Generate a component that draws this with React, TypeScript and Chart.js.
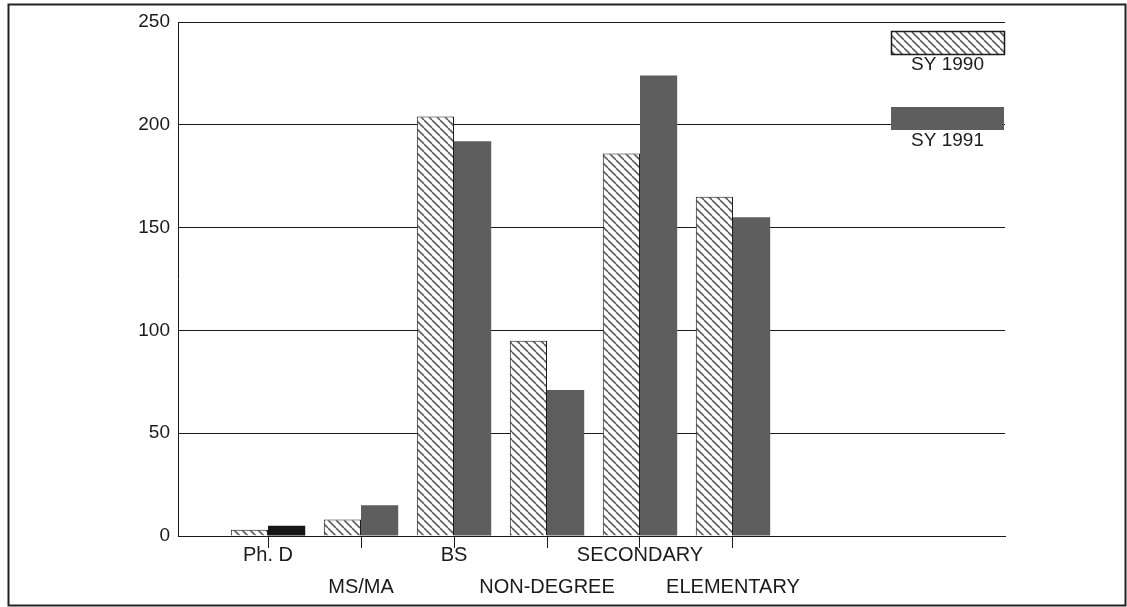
import { useEffect, useRef } from "react";
import { Chart, registerables } from "chart.js";

Chart.register(...registerables);

// Enrolment by degree level, school years 1990 and 1991
const categories = ["Ph. D", "MS/MA", "BS", "NON-DEGREE", "SECONDARY", "ELEMENTARY"];
const sy1990 = [3, 8, 204, 95, 186, 165];
const sy1991 = [5, 15, 192, 71, 224, 155];
const seriesNames = ["SY 1990", "SY 1991"];
const yTickStep = 50;
const yMax = 250;

const FONT = "'Liberation Sans', Arial, Helvetica, sans-serif";
const INK = "#1a1a1a";
const DARK_BAR = "#5e5e5e";
const BLACK_BAR = "#161616";

// Diagonal "\" hatching used for the SY 1990 bars
function makeHatch(): CanvasPattern | string {
  const c = document.createElement("canvas");
  c.width = 8;
  c.height = 8;
  const g = c.getContext("2d");
  if (!g) return "#cccccc";
  g.fillStyle = "#ffffff";
  g.fillRect(0, 0, 8, 8);
  g.strokeStyle = "#5f5f5f";
  g.lineWidth = 1.6;
  for (const k of [-8, 0, 8]) {
    g.beginPath();
    g.moveTo(k, 0);
    g.lineTo(k + 8, 8);
    g.stroke();
  }
  return g.createPattern(c, "repeat") || "#cccccc";
}

// Legend drawn as boxes with the series name centred underneath
const stackedLegend = {
  id: "stackedLegend",
  afterDatasetsDraw(chart: any) {
    const { ctx } = chart;
    const boxX = 891;
    const boxW = 113;
    const boxH = 23;
    const rows = [31, 107];
    ctx.save();
    chart.data.datasets.forEach((ds: any, i: number) => {
      const y = rows[i];
      ctx.fillStyle = i === 0 ? ds.backgroundColor : DARK_BAR;
      ctx.fillRect(boxX, y, boxW, boxH);
      if (i === 0) {
        ctx.strokeStyle = INK;
        ctx.lineWidth = 1.5;
        ctx.strokeRect(boxX + 0.5, y + 0.5, boxW, boxH);
      }
      ctx.fillStyle = INK;
      ctx.font = `19px ${FONT}`;
      ctx.textAlign = "center";
      ctx.textBaseline = "middle";
      ctx.fillText(ds.label, boxX + boxW / 2, y + boxH + 11);
    });
    ctx.restore();
  },
};

// Thin page frame around the whole figure
const pageFrame = {
  id: "pageFrame",
  afterDraw(chart: any) {
    const { ctx } = chart;
    ctx.save();
    ctx.strokeStyle = "#222222";
    ctx.lineWidth = 2;
    ctx.strokeRect(8.5, 4.5, 1117, 601);
    ctx.restore();
  },
};

export default function App() {
  const ref = useRef<HTMLCanvasElement>(null);

  useEffect(() => {
    const canvas = ref.current;
    if (!canvas) return;
    const hatch = makeHatch();

    const chart = new Chart(canvas, {
      type: "bar",
      data: {
        datasets: [
          {
            label: seriesNames[0],
            data: categories.map((_, i) => ({ x: i + 1, y: sy1990[i] })),
            backgroundColor: hatch as any,
            borderColor: INK,
            borderWidth: 1,
          },
          {
            label: seriesNames[1],
            data: categories.map((_, i) => ({ x: i + 1, y: sy1991[i] })),
            backgroundColor: (c: any) => (c.dataIndex === 0 ? BLACK_BAR : DARK_BAR),
            borderWidth: 0,
          },
        ],
      },
      options: {
        responsive: false,
        animation: false,
        devicePixelRatio: 1,
        categoryPercentage: 0.8,
        barPercentage: 1.0,
        layout: { padding: { left: 0, top: 22, right: 122, bottom: 0 } },
        plugins: {
          legend: { display: false },
          tooltip: { enabled: false },
        },
        scales: {
          x: {
            type: "linear",
            offset: false,
            min: 0.032,
            max: 8.925,
            afterBuildTicks: (scale: any) => {
              scale.ticks = categories.map((_, i) => ({ value: i + 1 }));
            },
            afterFit: (scale: any) => {
              scale.height = 71;
            },
            grid: {
              display: true,
              offset: false,
              drawOnChartArea: false,
              drawTicks: true,
              tickLength: 12,
              color: INK,
              lineWidth: 1,
            },
            border: { display: true, color: INK, width: 1 },
            ticks: {
              autoSkip: false,
              maxRotation: 0,
              minRotation: 0,
              padding: -9,
              color: INK,
              font: { family: FONT, size: 20, lineHeight: 32 / 20 },
              callback: (_v: any, index: number) => {
                const label = categories[index];
                return index % 2 === 1 ? ["", label] : label;
              },
            },
          },
          y: {
            min: 0,
            max: yMax,
            afterFit: (scale: any) => {
              scale.width = 178;
            },
            grid: {
              color: INK,
              lineWidth: 1,
              drawTicks: false,
            },
            border: { display: true, color: INK, width: 1 },
            ticks: {
              stepSize: yTickStep,
              padding: 8,
              color: INK,
              font: { family: FONT, size: 19 },
            },
          },
        },
      },
      plugins: [stackedLegend, pageFrame],
    } as any);

    return () => chart.destroy();
  }, []);

  return (
    <div
      style={{
        position: "fixed",
        left: 0,
        top: 0,
        width: 1127,
        height: 607,
        background: "#ffffff",
      }}
    >
      <canvas ref={ref} width={1127} height={607} style={{ display: "block" }} />
    </div>
  );
}
